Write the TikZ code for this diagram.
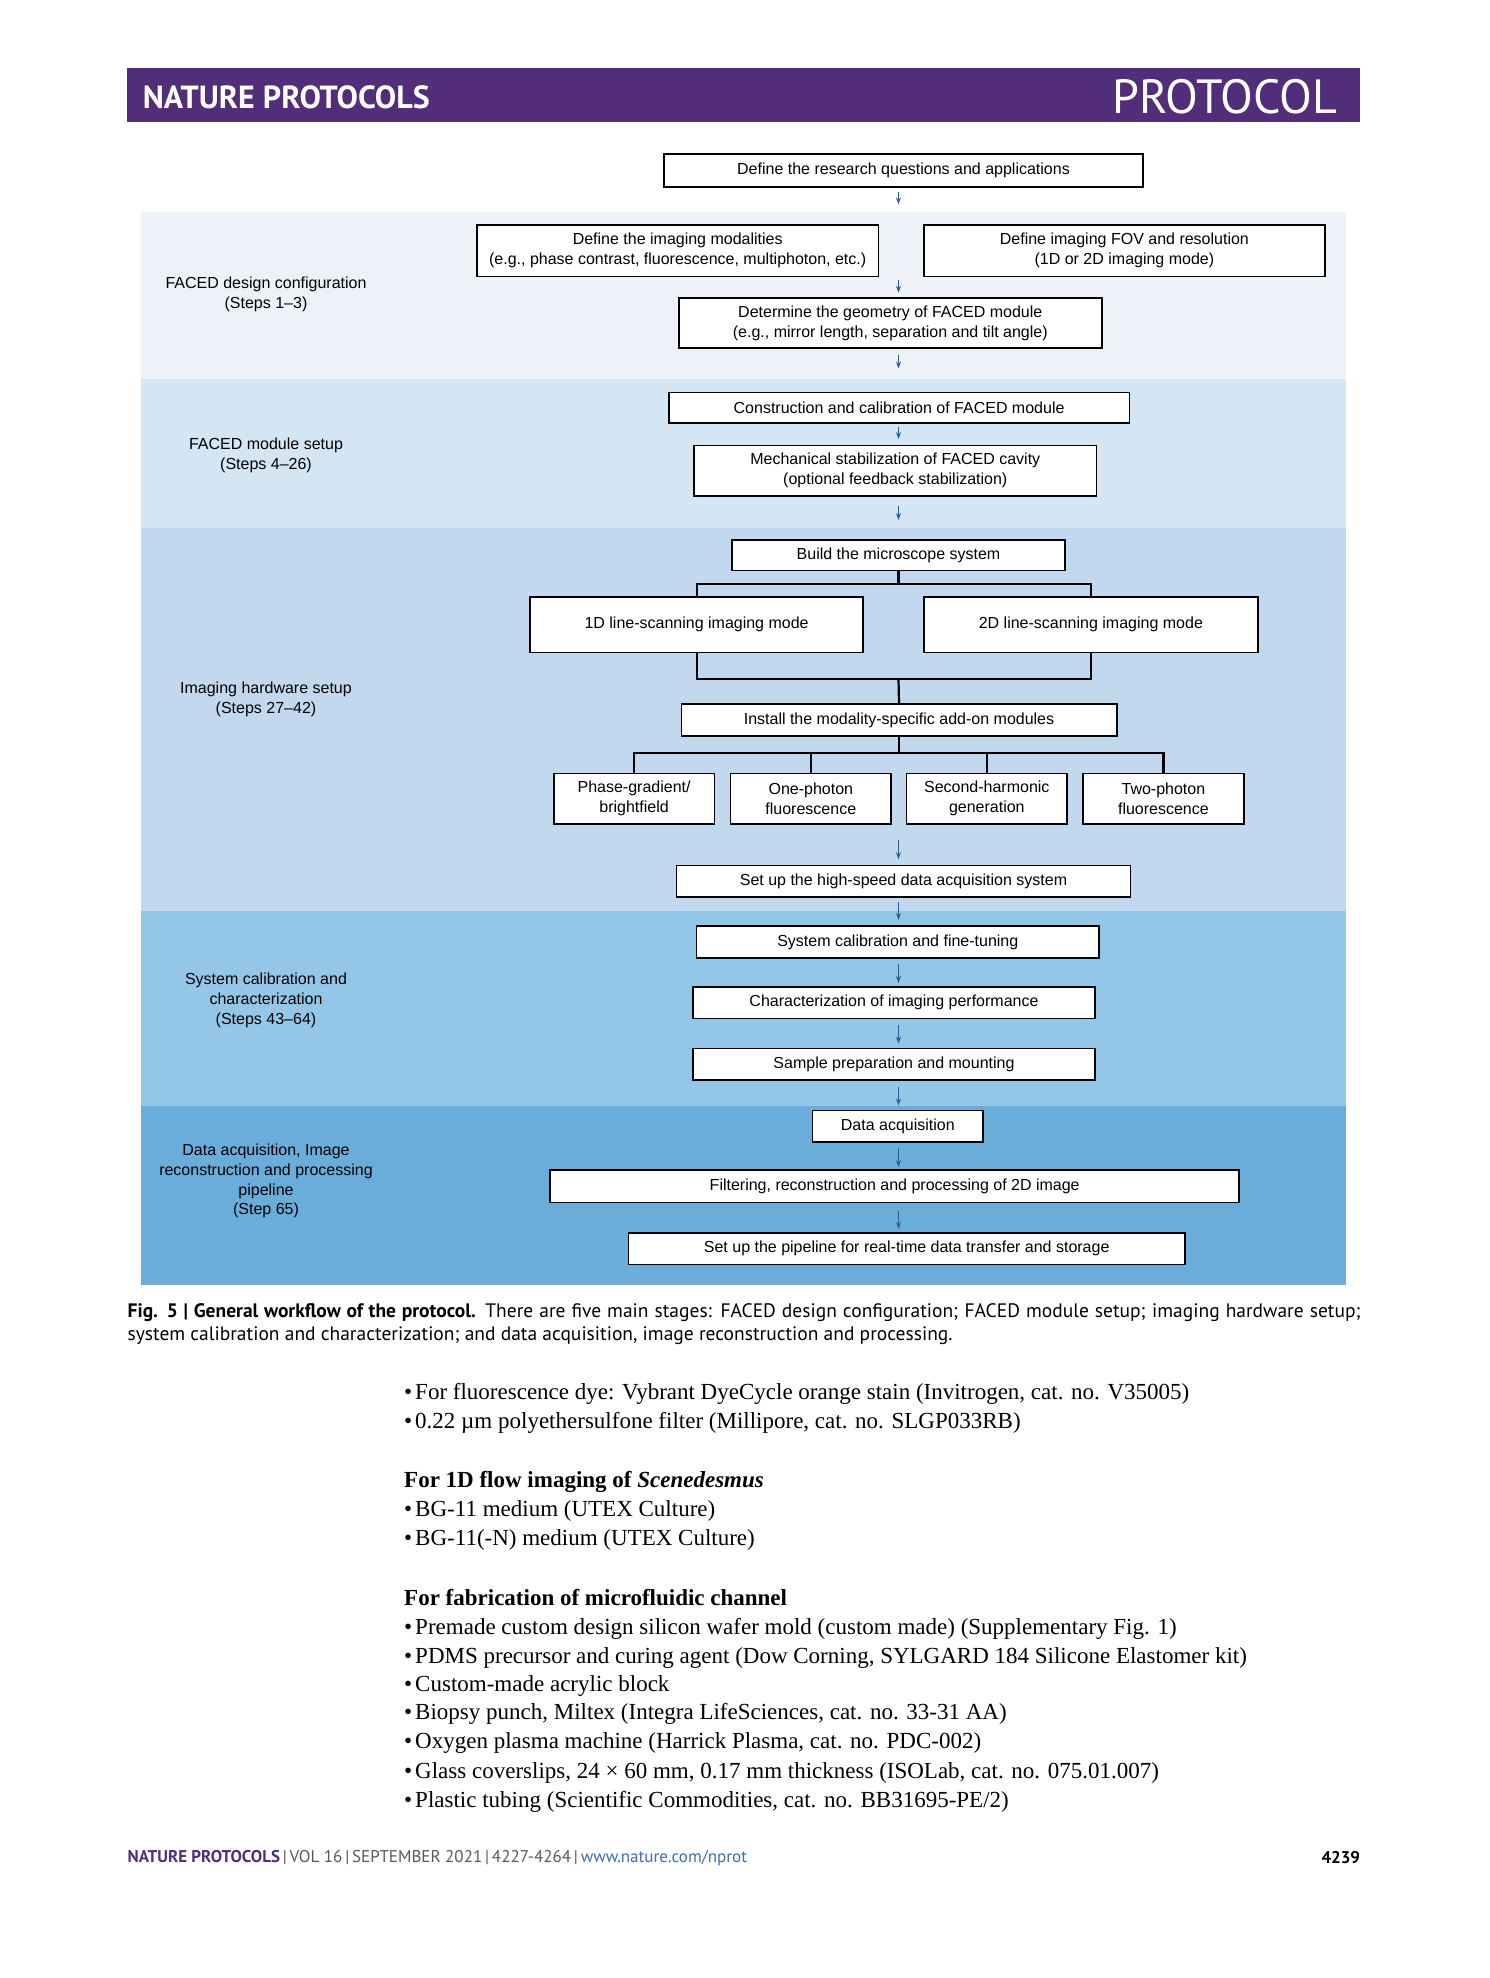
\documentclass[tikz,border=0pt]{standalone}
\usepackage{fontspec}
\setmainfont{Liberation Sans}
\newfontfamily\capfont{PT Sans}
\newfontfamily\bodyserif{Liberation Serif}
\usetikzlibrary{arrows.meta}
\definecolor{bandA}{HTML}{EEF2F8}
\definecolor{bandB}{HTML}{D4E5F3}
\definecolor{bandC}{HTML}{C1D8EE}
\definecolor{bandD}{HTML}{93C6E7}
\definecolor{bandE}{HTML}{6AACDA}
\definecolor{arrowblue}{HTML}{2A5C8F}
\definecolor{purp}{HTML}{522E7A}
\definecolor{footgrey}{HTML}{58595B}
\definecolor{linkblue}{HTML}{3C6EB4}
\tikzset{
  box/.style={draw=black, line width=1.7pt, fill=white, inner sep=0pt, align=center,
    font=\fontsize{16}{20}\selectfont},
  arr/.style={draw=arrowblue, line width=1.3pt, -{Stealth[length=7pt,width=5pt]}},
  tree/.style={draw=black, line width=2.2pt},
  lab/.style={align=center, inner sep=0pt, font=\fontsize{16}{19.8}\selectfont},
  item/.style={anchor=mid west, inner sep=0pt, font=\bodyserif\fontsize{23}{29}\selectfont}
}
\newcommand\bx[6]{\node[box, minimum width=#4pt, minimum height=#5pt] (#1) at (#2,#3) {#6};}
\newcommand\arw[3]{\coordinate (#1s) at (898.5,#2); \coordinate (#1e) at (898.5,#3); \draw[arr] (#1s) -- (#1e);}
\newcommand\bul{\textbullet\kern3pt}
\begin{document}
\begin{tikzpicture}[x=1pt,y=-1pt]
\useasboundingbox (0,0) rectangle (1489,1978);
\fill[white] (0,0) rectangle (1489,1978);
% header
\fill[purp] (127.4,68.1) rectangle (1360.3,122.4);
\node[anchor=west, inner sep=0pt, text=white, font=\capfont\bfseries\fontsize{32}{34}\selectfont] (hl) at (142.6,97.5) {NATURE PROTOCOLS};
\node[anchor=east, inner sep=0pt, text=white, font=\capfont\fontsize{48}{52}\selectfont] (hr) at (1337.6,97) {PROTOCOL};
% bands
\fill[bandA] (141.3,212) rectangle (1346.4,378.6);
\fill[bandB] (141.3,378.6) rectangle (1346.4,528.4);
\fill[bandC] (141.3,528.4) rectangle (1346.4,910.5);
\fill[bandD] (141.3,910.5) rectangle (1346.4,1106.2);
\fill[bandE] (141.3,1106.2) rectangle (1346.4,1284.6);
% left labels
\node[lab] (l1) at (266,294) {FACED design configuration\\(Steps 1--3)};
\node[lab] (l2) at (266,455.5) {FACED module setup\\(Steps 4--26)};
\node[lab] (l3) at (266,699) {Imaging hardware setup\\(Steps 27--42)};
\node[lab] (l4) at (266,1000.5) {System calibration and\\characterization\\(Steps 43--64)};
\node[lab] (l5) at (266,1181) {Data acquisition, Image\\reconstruction and processing\\pipeline\\(Step 65)};
% boxes
\bx{b1}{903.5}{170.4}{479.4}{32.8}{Define the research questions and applications}
\bx{b2}{677.7}{250.5}{401.3}{51.7}{Define the imaging modalities\\(e.g., phase contrast, fluorescence, multiphoton, etc.)}
\bx{b3}{1124.4}{250.5}{401.3}{51.7}{Define imaging FOV and resolution\\(1D or 2D imaging mode)}
\bx{b4}{890.3}{323}{422.7}{50.5}{Determine the geometry of FACED module\\(e.g., mirror length, separation and tilt angle)}
\bx{b5}{899.1}{407.6}{460.6}{30.3}{Construction and calibration of FACED module}
\bx{b6}{895.3}{470.7}{402.6}{50.5}{Mechanical stabilization of FACED cavity\\(optional feedback stabilization)}
\bx{b7}{898.5}{555.2}{333}{30.4}{Build the microscope system}
\bx{b8}{696.6}{624.7}{333}{55.5}{1D line-scanning imaging mode}
\bx{b9}{1090.9}{624.7}{334.3}{55.5}{2D line-scanning imaging mode}
\bx{b10}{899}{719.9}{435.3}{31.6}{Install the modality-specific add-on modules}
\bx{b11}{634.1}{798.8}{160.5}{50.5}{Phase-gradient/\\brightfield}
\bx{b12}{810.8}{798.8}{160.5}{50.5}{One-photon\\fluorescence}
\bx{b13}{986.8}{798.8}{160.5}{50.5}{Second-harmonic\\generation}
\bx{b14}{1163.4}{798.8}{160.5}{50.5}{Two-photon\\fluorescence}
\bx{b15}{903.5}{881.4}{454.2}{31.6}{Set up the high-speed data acquisition system}
\bx{b16}{897.8}{942}{402.5}{31.6}{System calibration and fine-tuning}
\bx{b17}{894}{1002.6}{402.6}{31.5}{Characterization of imaging performance}
\bx{b18}{894}{1064.4}{402.6}{31.6}{Sample preparation and mounting}
\bx{b19}{897.8}{1126.2}{170.4}{31.6}{Data acquisition}
\bx{b20}{894.7}{1186.1}{688.9}{32.8}{Filtering, reconstruction and processing of 2D image}
\bx{b21}{906.7}{1248.6}{556.5}{31.6}{Set up the pipeline for real-time data transfer and storage}
% arrows
\arw{a1}{191.8}{204.4}
\arw{a2}{280}{292.7}
\arw{a3}{354.6}{368.5}
\arw{a4}{426.5}{439}
\arw{a5}{506}{520}
\arw{a6}{840.4}{859.3}
\arw{a7}{902}{920}
\arw{a8}{964}{983}
\arw{a9}{1024.6}{1043.6}
\arw{a10}{1086.5}{1105.4}
\arw{a11}{1148.3}{1167.2}
\arw{a12}{1211.4}{1229}
% trees
\coordinate (t1) at (898.5,584.2);
\draw[tree] (b7.south) -- (t1);
\draw[tree] (b8.north) |- (t1) -| (b9.north);
\coordinate (m1) at (898.5,678.9);
\draw[tree] (b8.south) |- (m1) -| (b9.south);
\draw[tree] (m1) -- (b10.north);
\coordinate (t2) at (899,753.3);
\draw[tree] (b10.south) -- (t2);
\foreach \n in {11,12,13,14} \draw[tree] (b\n.north) |- (t2);
% caption
\node[anchor=north west, inner sep=0pt, text width=1233pt, align=justify,
  font=\capfont\fontsize{19.5}{23}\selectfont] (cap) at (127.4,1303)
  {\textbf{Fig. 5 | General workflow of the protocol.} There are five main stages: FACED design configuration; FACED module setup; imaging hardware setup;\linebreak system calibration and characterization; and data acquisition, image reconstruction and processing.};
% list
\node[item] (i1) at (404,1396.8) {\bul For fluorescence dye: Vybrant DyeCycle orange stain (Invitrogen, cat. no. V35005)};
\node[item] (i2) at (404,1425.9) {\bul 0.22 µm polyethersulfone filter (Millipore, cat. no. SLGP033RB)};
\node[item] (h1) at (404,1485.2) {\textbf{For 1D flow imaging of \textit{Scenedesmus}}};
\node[item] (i3) at (404,1514.2) {\bul BG-11 medium (UTEX Culture)};
\node[item] (i4) at (404,1543.2) {\bul BG-11(-N) medium (UTEX Culture)};
\node[item] (h2) at (404,1602.6) {\textbf{For fabrication of microfluidic channel}};
\node[item] (i5) at (404,1631.6) {\bul Premade custom design silicon wafer mold (custom made) (Supplementary Fig. 1)};
\node[item] (i6) at (404,1660.5) {\bul PDMS precursor and curing agent (Dow Corning, SYLGARD 184 Silicone Elastomer kit)};
\node[item] (i7) at (404,1688.9) {\bul Custom-made acrylic block};
\node[item] (i8) at (404,1717.3) {\bul Biopsy punch, Miltex (Integra LifeSciences, cat. no. 33-31 AA)};
\node[item] (i9) at (404,1746.3) {\bul Oxygen plasma machine (Harrick Plasma, cat. no. PDC-002)};
\node[item] (i10) at (404,1775.4) {\bul Glass coverslips, 24 × 60 mm, 0.17 mm thickness (ISOLab, cat. no. 075.01.007)};
\node[item] (i11) at (404,1804.4) {\bul Plastic tubing (Scientific Commodities, cat. no. BB31695-PE/2)};
% footer
\node[anchor=west, inner sep=0pt, text=footgrey, font=\capfont\fontsize{17}{19}\selectfont] (foot) at (127.4,1858)
  {\textcolor{purp}{\textbf{NATURE PROTOCOLS}}\,|\,VOL 16\,|\,SEPTEMBER 2021\,|\,4227-4264\,|\,\textcolor{linkblue}{www.nature.com/nprot}};
\node[anchor=east, inner sep=0pt, font=\capfont\bfseries\fontsize{17}{19}\selectfont] (pg) at (1360.3,1858) {4239};
\end{tikzpicture}
\end{document}
